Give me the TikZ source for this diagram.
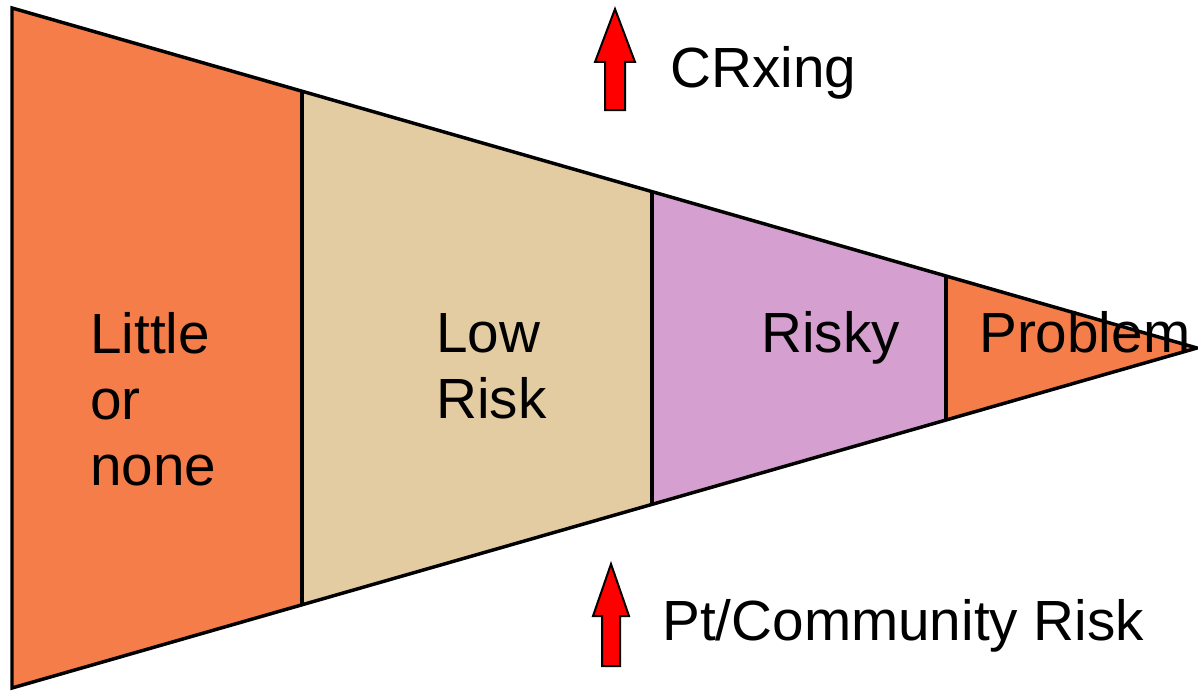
\documentclass[tikz,border=0pt]{standalone}
\usepackage{fontspec}
\setmainfont{Liberation Sans}
\definecolor{segorange}{HTML}{F47D4A}
\definecolor{segtan}{HTML}{E4CCA2}
\definecolor{seglilac}{HTML}{D59FD0}
\tikzset{
  seg/.style={line width=2.6pt},
  uparrow/.style={fill=red,draw=black,line width=1.5pt,line join=miter},
  lbl/.style={anchor=base west,inner sep=0pt,align=left,font=\fontsize{42.5}{49.5}\selectfont}
}

\begin{document}
\begin{tikzpicture}[x=0.75pt,y=0.75pt,yscale=-1,xscale=1]
\useasboundingbox (0,0) rectangle (1198,692);

%Shape: Funnel segments
\fill[segorange] (12,8) -- (302,91.2) -- (302,604.8) -- (12,688) -- cycle ;
\fill[segtan] (302,91.2) -- (652,191.6) -- (652,504.4) -- (302,604.8) -- cycle ;
\fill[seglilac] (652,191.6) -- (946,276) -- (946,420) -- (652,504.4) -- cycle ;
\fill[segorange] (946,276) -- (1197,348) -- (946,420) -- cycle ;
%Straight Lines: dividers
\draw[seg] (302,91.2) -- (302,604.8) ;
\draw[seg] (652,191.6) -- (652,504.4) ;
\draw[seg] (946,276) -- (946,420) ;
%Shape: Funnel outline
\draw[seg,line join=miter] (12,8) -- (1197,348) -- (12,688) -- cycle ;

%Shape: Up arrows
\draw[uparrow] (605,110) -- (605,62) -- (595,62) -- (615,9) -- (635,62) -- (625,62) -- (625,110) -- cycle ;
\draw[uparrow] (602,666) -- (602,616) -- (593,616) -- (611,564) -- (629,616) -- (620,616) -- (620,666) -- cycle ;

% Text Node (base = last line)
\node[lbl] (little) at (90,485) {Little\\or\\none};
% Text Node
\node[lbl] (lowrisk) at (436,418) {Low\\Risk};
% Text Node
\node[lbl] (risky) at (761,352) {Risky};
% Text Node
\node[lbl] (problem) at (979,352) {Problem};
% Text Node
\node[lbl] (crxing) at (670,88) {CRxing};
% Text Node
\node[lbl] (ptrisk) at (662,640) {Pt/Community Risk};

\end{tikzpicture}
\end{document}
